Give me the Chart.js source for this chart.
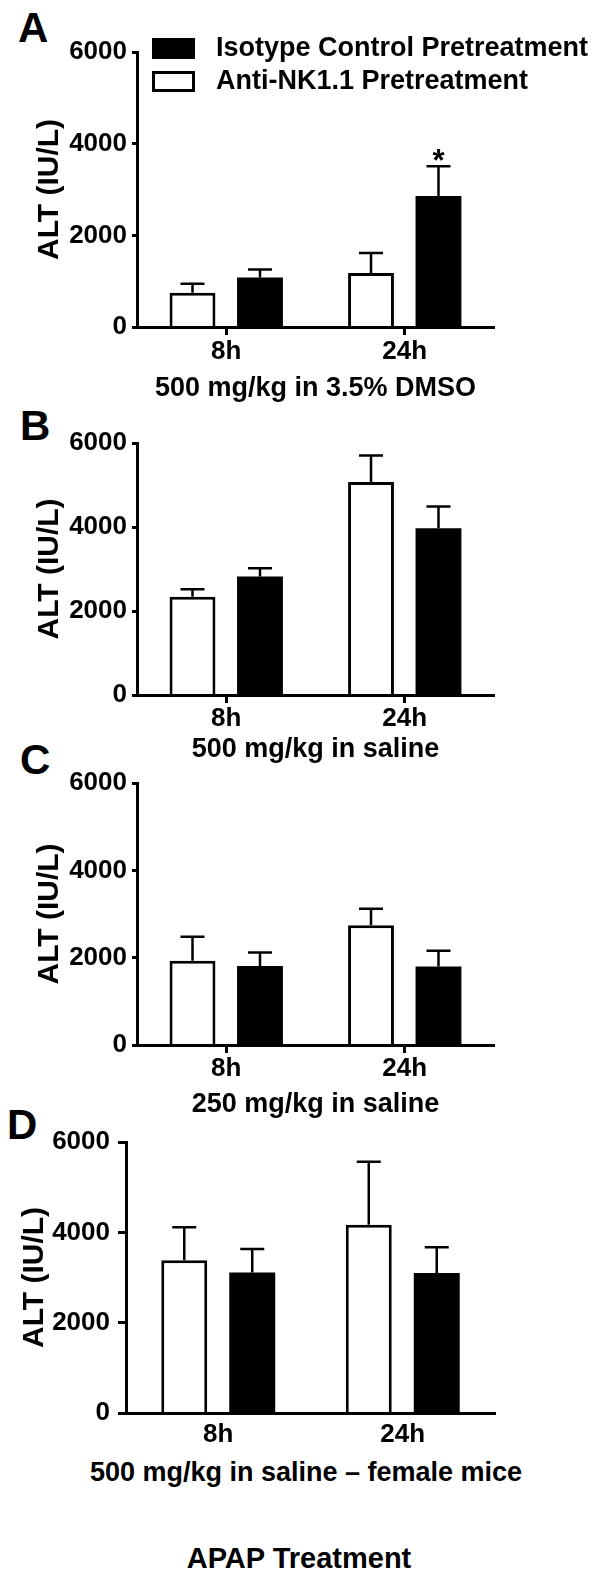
<!DOCTYPE html>
<html>
<head>
<meta charset="utf-8">
<script src="https://cdn.jsdelivr.net/npm/chart.js@4"></script>
<style>
  body { margin: 0; background: #fff; width: 600px; height: 1580px; position: relative; overflow: hidden;
         font-family: "Liberation Sans", Arial, sans-serif; font-weight: bold; color: #000; }
  canvas { position: absolute; left: 0; }
  .letter { position: absolute; font-size: 42px; line-height: 1; }
  .note { position: absolute; white-space: nowrap; line-height: 1; transform: translateX(-50%); }
</style>
</head>
<body>
<div class="letter" style="left:18px;top:7px">A</div>
<div class="letter" style="left:20px;top:405px">B</div>
<div class="letter" style="left:20px;top:739px">C</div>
<div class="letter" style="left:7px;top:1104px">D</div>
<div class="note" id="noteD" style="left:306px;top:1459px;font-size:27px"></div>
<div class="note" id="apap" style="left:299px;top:1544px;font-size:29px"></div>

<canvas id="panelA" width="600" height="405" style="top:0px"></canvas>
<canvas id="panelB" width="600" height="368" style="top:398px"></canvas>
<canvas id="panelC" width="600" height="383" style="top:738px"></canvas>
<canvas id="panelD" width="600" height="391" style="top:1097px"></canvas>

<script>
const categories = ['8h', '24h'];
const yTickValues = [0, 2000, 4000, 6000];
const seriesNames = ['Anti-NK1.1 Pretreatment', 'Isotype Control Pretreatment'];
const yTitle = 'ALT (IU/L)';
const subtitles = ['500 mg/kg in 3.5% DMSO', '500 mg/kg in saline', '250 mg/kg in saline', '500 mg/kg in saline \u2013 female mice'];
const bottomTitle = 'APAP Treatment';

// panel A
const antiA = [750, 1180];
const antiErrA = [195, 435];
const isoA = [1080, 2860];
const isoErrA = [175, 645];
const isoSigA = ['', '*'];

// panel B
const antiB = [2340, 5070];
const antiErrB = [180, 630];
const isoB = [2820, 3970];
const isoErrB = [200, 520];

// panel C
const antiC = [1930, 2740];
const antiErrC = [550, 380];
const isoC = [1810, 1800];
const isoErrC = [310, 360];

// panel D
const antiD = [3380, 4170];
const antiErrD = [730, 1390];
const isoD = [3110, 3100];
const isoErrD = [520, 570];

const FAMILY = '"Liberation Sans", Arial, sans-serif';

document.getElementById('noteD').textContent = subtitles[3];
document.getElementById('apap').textContent = bottomTitle;

// error bars (upward only, with cap) + significance marks
const errorBars = {
    id: 'errorBars',
    afterDatasetsDraw(chart) {
        const ctx = chart.ctx;
        const y = chart.scales.y;
        chart.data.datasets.forEach((ds, i) => {
            const meta = chart.getDatasetMeta(i);
            meta.data.forEach((bar, j) => {
                const top = y.getPixelForValue(ds.data[j] + ds.errors[j]);
                ctx.save();
                ctx.strokeStyle = '#000';
                ctx.lineWidth = 2.5;
                ctx.beginPath();
                ctx.moveTo(bar.x, bar.y);
                ctx.lineTo(bar.x, top);
                ctx.moveTo(bar.x - 12, top);
                ctx.lineTo(bar.x + 12, top);
                ctx.stroke();
                if (ds.sig && ds.sig[j]) {
                    ctx.fillStyle = '#000';
                    ctx.font = 'bold 31px ' + FAMILY;
                    ctx.textAlign = 'center';
                    ctx.textBaseline = 'alphabetic';
                    ctx.fillText(ds.sig[j], bar.x, top + 5);
                }
                ctx.restore();
            });
        });
    }
};

// legend for panel A, isotype first
const legendBoxes = {
    id: 'legendBoxes',
    afterDraw(chart) {
        const ctx = chart.ctx;
        [1, 0].forEach((di, r) => {
            const ds = chart.data.datasets[di];
            const cy = 48.5 + r * 33;
            ctx.save();
            ctx.fillStyle = ds.backgroundColor;
            ctx.fillRect(152, cy - 10.5, 43, 21);
            ctx.strokeStyle = '#000';
            ctx.lineWidth = 3;
            ctx.strokeRect(153.5, cy - 9, 40, 18);
            ctx.fillStyle = '#000';
            ctx.font = 'bold 27px ' + FAMILY;
            ctx.textAlign = 'left';
            ctx.textBaseline = 'middle';
            ctx.fillText(ds.label, 216, cy);
            ctx.restore();
        });
    }
};

const makePanel = (canvasId, p) => {
    const canvas = document.getElementById(canvasId);
    const H = canvas.height;
    new Chart(canvas, {
        type: 'bar',
        data: {
            labels: categories,
            datasets: [
                { label: seriesNames[0], data: p.anti, errors: p.antiErr, backgroundColor: '#fff',
                  borderColor: '#000', borderWidth: 3, borderSkipped: 'start' },
                { label: seriesNames[1], data: p.iso, errors: p.isoErr, sig: p.isoSig, backgroundColor: '#000',
                  borderColor: '#000', borderWidth: 0 }
            ]
        },
        options: {
            responsive: false,
            animation: false,
            devicePixelRatio: 1,
            layout: { padding: { top: p.chartTop - p.canvasTop, left: 0, right: 600 - p.right, bottom: 0 } },
            plugins: { legend: { display: false }, tooltip: { enabled: false } },
            datasets: { bar: { categoryPercentage: p.catPct, barPercentage: p.barPct } },
            scales: {
                x: {
                    offset: true,
                    grid: { display: p.xTicks, drawTicks: p.xTicks, drawOnChartArea: false, offset: false,
                            tickLength: 8, tickWidth: 3, tickColor: '#000' },
                    border: { display: true, color: '#000', width: 3, z: 1 },
                    ticks: { color: '#000', font: { family: FAMILY, size: 26, weight: 'bold' }, padding: p.xPad },
                    title: { display: !!p.subtitle, text: p.subtitle || '', color: '#000',
                             font: { family: FAMILY, size: 27, weight: 'bold' }, padding: 0 },
                    afterFit: s => { s.height = H - (p.chartBottom - p.canvasTop); }
                },
                y: {
                    min: 0,
                    max: 6000,
                    afterBuildTicks: s => { s.ticks = yTickValues.map(v => ({ value: v })); },
                    grid: { drawOnChartArea: false, tickLength: p.yTickLen, tickWidth: 3, tickColor: '#000' },
                    border: { display: true, color: '#000', width: 3 },
                    ticks: { color: '#000', font: { family: FAMILY, size: 26, weight: 'bold' }, padding: p.yPad,
                             callback: v => String(v) },
                    title: { display: true, text: yTitle, color: '#000',
                             font: { family: FAMILY, size: 30, weight: 'bold' }, padding: { top: p.yTitlePad, bottom: 0 } },
                    afterFit: s => { s.width = p.left; }
                }
            }
        },
        plugins: p.legend ? [errorBars, legendBoxes] : [errorBars]
    });
};

makePanel('panelA', { canvasTop: 0, chartTop: 52, chartBottom: 327, left: 137, right: 494,
    anti: antiA, antiErr: antiErrA, iso: isoA, isoErr: isoErrA, isoSig: isoSigA, subtitle: subtitles[0],
    catPct: 0.756, barPct: 0.68, xTicks: true, xPad: 1, yTickLen: 5, yPad: 5, yTitlePad: 32, legend: true });

makePanel('panelB', { canvasTop: 398, chartTop: 443, chartBottom: 695, left: 137, right: 494,
    anti: antiB, antiErr: antiErrB, iso: isoB, isoErr: isoErrB, subtitle: subtitles[1],
    catPct: 0.756, barPct: 0.68, xTicks: true, xPad: 0, yTickLen: 5, yPad: 5, yTitlePad: 32 });

makePanel('panelC', { canvasTop: 738, chartTop: 783, chartBottom: 1045, left: 137, right: 494,
    anti: antiC, antiErr: antiErrC, iso: isoC, isoErr: isoErrC, subtitle: subtitles[2],
    catPct: 0.756, barPct: 0.68, xTicks: true, xPad: 0, yTickLen: 5, yPad: 5, yTitlePad: 32 });

makePanel('panelD', { canvasTop: 1097, chartTop: 1142, chartBottom: 1413, left: 126, right: 495,
    anti: antiD, antiErr: antiErrD, iso: isoD, isoErr: isoErrD, subtitle: null,
    catPct: 0.737, barPct: 0.676, xTicks: false, xPad: 6, yTickLen: 8, yPad: 8, yTitlePad: 17 });
</script>
</body>
</html>
